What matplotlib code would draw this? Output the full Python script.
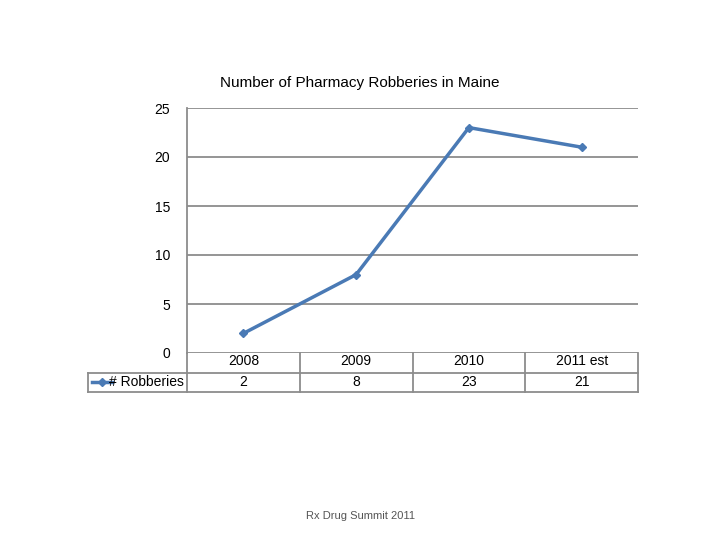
import matplotlib
matplotlib.use("Agg")
import matplotlib.pyplot as plt
from matplotlib.lines import Line2D

categories = ["2008", "2009", "2010", "2011 est"]
robberies = [2, 8, 23, 21]
yticks = [0, 5, 10, 15, 20, 25]
series_name = "# Robberies"
title = "Number of Pharmacy Robberies in Maine"
footer = "Rx Drug Summit 2011"

W, H = 720, 540
fig = plt.figure(figsize=(7.2, 5.4), dpi=100)
fx = lambda px: px / W
fy = lambda py: 1 - py / H

L, R, T, B = 187, 638, 108, 353
ax = fig.add_axes([fx(L), fy(B), fx(R - L), (B - T) / H])
n = len(categories)
xs = [i + 0.5 for i in range(n)]
color = "#4a7ab5"
ax.plot(xs, robberies, color=color, lw=2.5, marker="D", ms=4.5, zorder=3)
ax.set_xlim(0, n)
ax.set_ylim(0, 25)
ax.set_yticks(yticks)
ax.set_yticklabels([str(t) for t in yticks], fontsize=10, fontfamily="Liberation Sans")
ax.yaxis.grid(True, color="#8c8c8c", lw=1.3)
ax.set_xticks([])
ax.tick_params(axis="y", length=0, pad=12)
for s in ["top", "right", "bottom"]:
    ax.spines[s].set_visible(False)
ax.spines["left"].set_color("#8c8c8c")
ax.spines["left"].set_linewidth(1.3)

fig.text(0.5, fy(83), title, ha="center", va="center", fontsize=11, fontfamily="Liberation Sans")

gc = "#8c8c8c"
def hline(y, x0, x1):
    fig.add_artist(Line2D([fx(x0), fx(x1)], [fy(y), fy(y)], color=gc, lw=1.3, transform=fig.transFigure))
def vline(x, y0, y1):
    fig.add_artist(Line2D([fx(x), fx(x)], [fy(y0), fy(y1)], color=gc, lw=1.3, transform=fig.transFigure))

hline(373, 88, R)
hline(392, 88, R)
vline(88, 373, 392)
colw = (R - L) / n
for i in range(n + 1):
    vline(L + i * colw, B, 392)
for i, (c, v) in enumerate(zip(categories, robberies)):
    cx = L + (i + 0.5) * colw
    fig.text(fx(cx), fy(361), c, ha="center", va="center", fontsize=10, fontfamily="Liberation Sans")
    fig.text(fx(cx), fy(382), str(v), ha="center", va="center", fontsize=10, fontfamily="Liberation Sans")
fig.add_artist(Line2D([fx(92), fx(112)], [fy(382)] * 2, color=color, lw=2.5, transform=fig.transFigure))
fig.add_artist(Line2D([fx(102)], [fy(382)], color=color, marker="D", ms=4.5, transform=fig.transFigure))
fig.text(fx(184), fy(382), series_name, ha="right", va="center", fontsize=10, fontfamily="Liberation Sans")

fig.text(0.5, fy(516), footer, ha="center", va="center", fontsize=8, color="#555555", fontfamily="Liberation Sans")
fig.savefig("out.png", dpi=100)
